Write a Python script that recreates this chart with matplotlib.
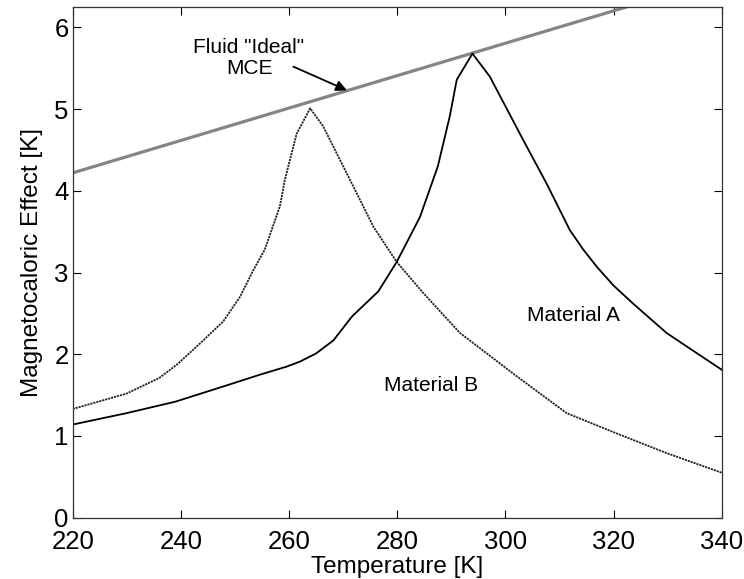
import matplotlib
matplotlib.use("Agg")
import matplotlib.pyplot as plt

plt.rcParams['font.family'] = ['Liberation Sans', 'DejaVu Sans']

# Material A (solid)
temp_a = [220, 230, 239, 248.5, 254.6, 259.6, 262, 265, 268.2, 271.6, 276.5, 279.9,
          284.2, 287.5, 289.7, 291, 293.9, 297.1, 303.3, 307.6, 311.9, 314.4, 316.9,
          320, 323.6, 329.8, 335, 340]
mce_a = [1.14, 1.28, 1.42, 1.62, 1.75, 1.85, 1.91, 2.01, 2.17, 2.46, 2.77, 3.13,
         3.68, 4.30, 4.91, 5.36, 5.68, 5.40, 4.62, 4.09, 3.52, 3.28, 3.07,
         2.84, 2.62, 2.26, 2.03, 1.81]

# Material B (dotted)
temp_b = [220, 230, 236, 239.2, 243.5, 247.8, 250.9, 253.4, 255.5, 258.3, 259.2,
          261.4, 263.9, 266.3, 271.3, 275.6, 279.9, 284.8, 291.6, 302.1, 311.3,
          320.6, 329.8, 340]
mce_b = [1.33, 1.52, 1.71, 1.87, 2.13, 2.40, 2.70, 3.03, 3.28, 3.81, 4.13,
         4.70, 5.01, 4.79, 4.13, 3.56, 3.13, 2.75, 2.26, 1.73, 1.28,
         1.03, 0.79, 0.55]

# Fluid "Ideal" MCE
temp_ideal = [220, 340]
mce_ideal = [4.22, 6.60]

xticks = [220, 240, 260, 280, 300, 320, 340]
yticks = [0, 1, 2, 3, 4, 5, 6]

fig = plt.figure(figsize=(7.44, 5.79), dpi=100)
ax = fig.add_axes([0.0977, 0.1059, 0.8725, 0.8820])

ax.plot(temp_ideal, mce_ideal, color='#858585', lw=2.3, solid_capstyle='butt')
ax.plot(temp_b, mce_b, color='#222222', lw=1.3, linestyle=(0, (1.2, 0.5)))
ax.plot(temp_a, mce_a, color='black', lw=1.3)

ax.set_xlim(220, 340)
ax.set_ylim(0, 6.25)
ax.set_xticks(xticks)
ax.set_yticks(yticks)
ax.tick_params(direction='in', length=6, width=0.8, top=True, right=True,
               labelsize=18.5)
ax.tick_params(axis='x', pad=9)
ax.tick_params(axis='y', pad=3)
for s in ax.spines.values():
    s.set_linewidth(0.9)
    s.set_color('#333333')

ax.set_xlabel('Temperature [K]', fontsize=17.5, labelpad=1)
ax.set_ylabel('Magnetocaloric Effect [K]', fontsize=17.5, labelpad=8)

ax.text(252.6, 5.63, 'Fluid "Ideal"\nMCE', ha='center', va='center',
        fontsize=15, linespacing=1.15)
ax.annotate('', xy=(270.7, 5.23), xytext=(260.8, 5.52),
            arrowprops=dict(arrowstyle='-|>', lw=1.3, color='black',
                            mutation_scale=16, shrinkA=0, shrinkB=0))
ax.text(312.5, 2.47, 'Material A', ha='center', va='center', fontsize=15)
ax.text(286.2, 1.62, 'Material B', ha='center', va='center', fontsize=15)

fig.savefig('out.png', dpi=100)
